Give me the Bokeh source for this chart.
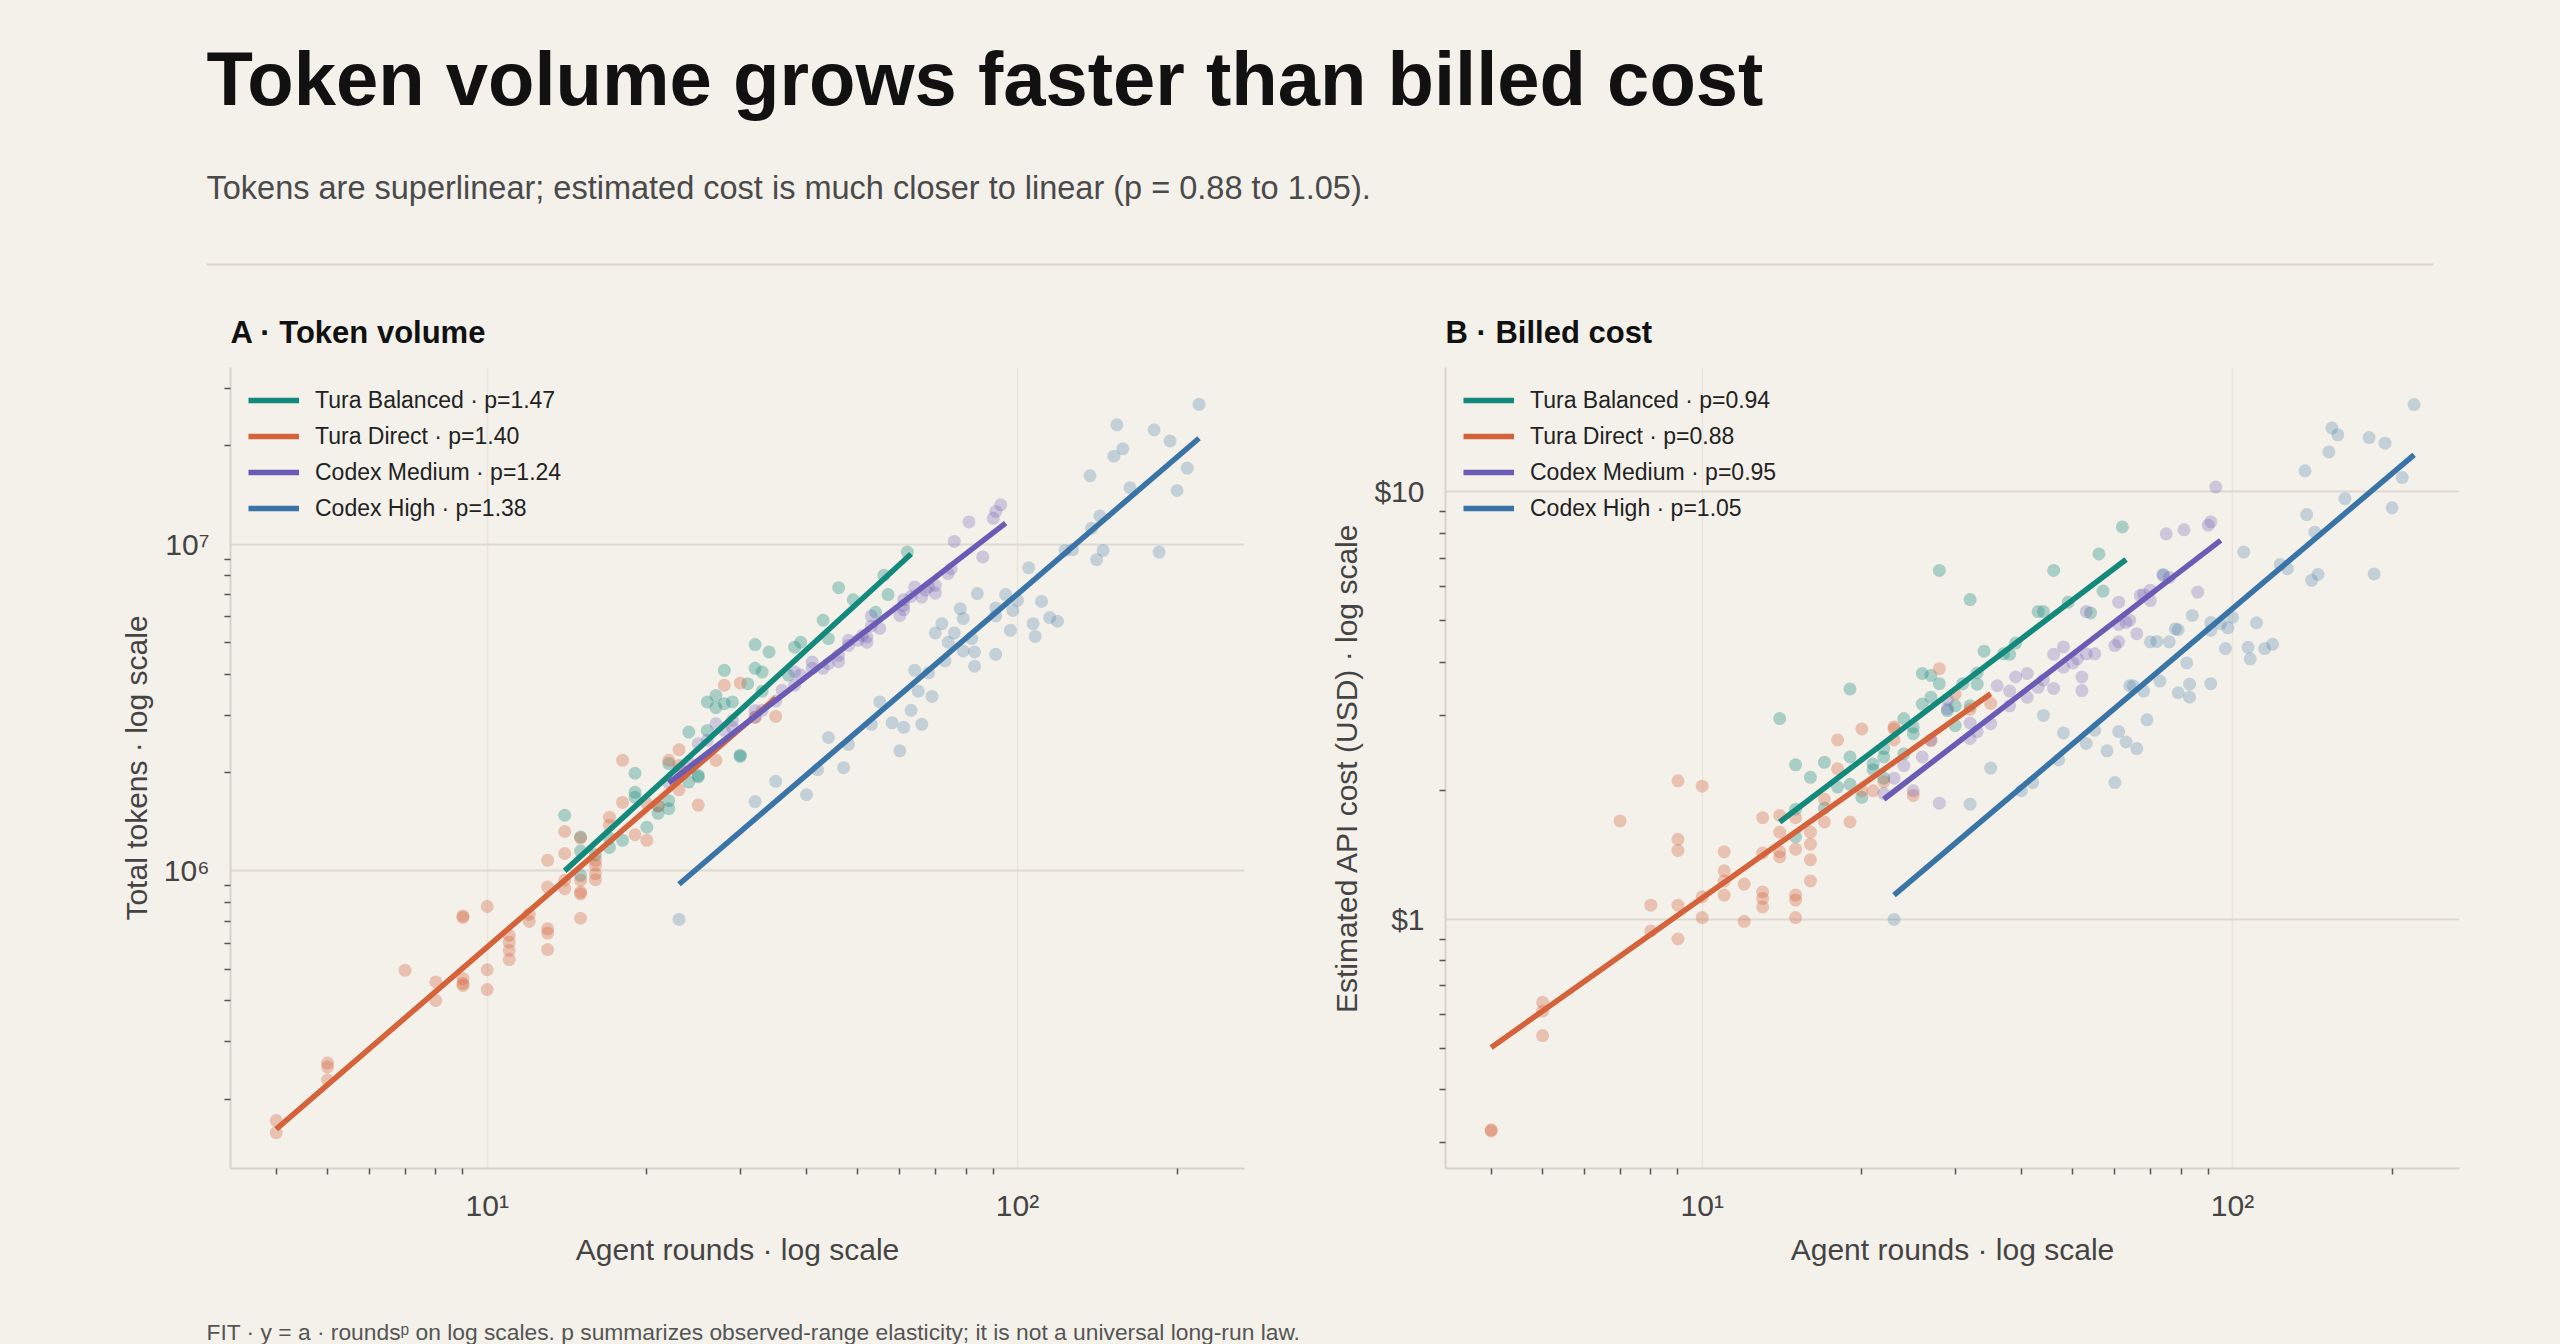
from bokeh.plotting import figure
from bokeh.layouts import column, row
from bokeh.models import Range1d, FixedTicker, CustomJSTickFormatter, Legend, LegendItem
from bokeh.core.properties import value
from bokeh.embed import file_html
from bokeh.resources import INLINE

# ---------------- text ----------------
TITLE = "Token volume grows faster than billed cost"
SUBTITLE = "Tokens are superlinear; estimated cost is much closer to linear (p = 0.88 to 1.05)."
FOOTNOTE = "FIT · y = a · rounds\u1d56 on log scales. p summarizes observed-range elasticity; it is not a universal long-run law."
PANEL_TITLES = ["A · Token volume", "B · Billed cost"]
X_LABEL = "Agent rounds · log scale"
Y_LABELS = ["Total tokens · log scale", "Estimated API cost (USD) · log scale"]
SERIES = ["Tura Balanced", "Tura Direct", "Codex Medium", "Codex High"]
P_TOKENS = [1.47, 1.40, 1.24, 1.38]
P_COST = [0.94, 0.88, 0.95, 1.05]

# ---------------- ticks ----------------
X_MAJOR = [10, 100]
X_MAJOR_LABELS = ["10\u00b9", "10\u00b2"]
X_MINOR = [4, 5, 6, 7, 8, 9, 20, 30, 40, 50, 60, 70, 80, 90, 200]
YA_MAJOR = [1000000, 10000000]
YA_MAJOR_LABELS = ["10\u2076", "10\u2077"]
YA_MINOR = [2e5, 3e5, 4e5, 5e5, 6e5, 7e5, 8e5, 9e5, 2e6, 3e6, 4e6, 5e6, 6e6, 7e6, 8e6, 9e6, 2e7, 3e7]
YB_MAJOR = [1, 10]
YB_MAJOR_LABELS = ["$1", "$10"]
YB_MINOR = [0.3, 0.4, 0.5, 0.6, 0.7, 0.8, 0.9, 2, 3, 4, 5, 6, 7, 8, 9]

# ---------------- data: Tura Balanced ----------------
tb_rounds = [14, 15, 15, 15, 16, 17, 17, 18, 19, 19, 19, 20, 21, 21, 22, 22, 22, 24, 24, 25, 25, 26, 26,
             27, 27, 28, 28, 29, 30, 30, 31, 32, 32, 33, 33, 34, 37, 38, 39, 43, 44, 46, 49, 54, 56, 57, 62]
tb_tokens = [1.48e6, 1.27e6, 0.968e6, 1.15e6, 1.12e6, 1.18e6, 1.26e6, 1.24e6, 1.99e6, 1.74e6, 1.68e6,
             1.36e6, 1.50e6, 1.58e6, 1.64e6, 1.55e6, 2.13e6, 1.87e6, 2.66e6, 1.96e6, 1.94e6, 2.69e6,
             3.29e6, 3.44e6, 3.16e6, 4.11e6, 3.25e6, 3.29e6, 2.26e6, 2.24e6, 3.74e6, 4.93e6, 4.17e6,
             4.06e6, 3.55e6, 4.68e6, 3.97e6, 4.84e6, 5.01e6, 5.85e6, 5.14e6, 7.36e6, 6.76e6, 6.19e6,
             8.04e6, 7.01e6, 9.46e6]
tb_cost = [2.95, 2.30, 1.81, 1.56, 2.15, 2.33, 1.82, 2.04, 3.46, 2.40, 2.07, 1.93, 2.31, 2.24, 2.40,
           2.51, 2.14, 2.95, 2.44, 2.72, 2.82, 3.76, 3.19, 3.72, 3.31, 3.56, 6.55, 3.08, 2.84, 3.16,
           3.56, 5.60, 3.16, 3.77, 3.55, 4.24, 4.18, 4.17, 4.43, 5.25, 5.25, 6.55, 5.52, 5.21, 7.16,
           5.86, 8.28]

# ---------------- data: Tura Direct ----------------
td_rounds = [4, 4, 5, 5, 5, 7, 8, 8, 9, 9, 9, 9, 9, 10, 10, 10, 11, 11, 11, 11, 12, 12, 13, 13, 13, 13, 13,
             14, 14, 14, 14, 15, 15, 15, 15, 15, 16, 16, 16, 16, 17, 17, 18, 18, 19, 20, 20, 21, 22, 23,
             23, 23, 25, 27, 28, 30, 32, 35]
td_tokens = [1.72e5, 1.58e5, 2.58e5, 2.51e5, 2.29e5, 4.96e5, 4.57e5, 4.01e5, 7.28e5, 7.20e5, 4.68e5,
             4.52e5, 4.46e5, 7.78e5, 4.98e5, 4.33e5, 6.35e5, 6.05e5, 5.71e5, 5.35e5, 7.36e5, 7.00e5,
             1.077e6, 8.92e5, 6.65e5, 6.45e5, 5.74e5, 1.32e6, 1.13e6, 9.36e5, 8.82e5, 1.26e6, 9.36e5,
             8.61e5, 7.16e5, 8.50e5, 1.077e6, 9.40e5, 1.04e6, 9.80e5, 1.46e6, 1.38e6, 2.18e6, 1.62e6,
             1.29e6, 1.24e6, 1.61e6, 1.58e6, 2.18e6, 1.77e6, 2.35e6, 2.10e6, 1.59e6, 2.18e6, 3.70e6,
             3.76e6, 2.95e6, 2.97e6]
td_cost = [0.32, 0.322, 0.64, 0.61, 0.535, 1.70, 1.08, 0.94, 2.11, 1.54, 1.45, 1.08, 0.90, 2.05, 1.13,
           1.01, 1.44, 1.30, 1.23, 1.14, 1.21, 0.99, 1.73, 1.43, 1.16, 1.12, 1.07, 1.75, 1.60, 1.44,
           1.40, 1.73, 1.46, 1.14, 1.11, 1.01, 1.60, 1.50, 1.38, 1.23, 1.91, 1.69, 2.63, 2.25, 1.69,
           2.79, 2.00, 2.00, 2.10, 2.79, 2.63, 2.82, 1.95, 2.62, 3.86, 3.37, 3.10, 3.20]

# ---------------- data: Codex Medium ----------------
cm_rounds = [22, 23, 24, 25, 26, 27, 28, 29, 29, 32, 32, 33, 35, 36, 38, 38, 39, 41, 41, 43, 44, 46, 46,
             48, 48, 50, 51, 52, 52, 53, 53, 55, 60, 61, 61, 61, 63, 64, 66, 67, 68, 70, 70, 74, 75, 76,
             81, 86, 90, 91, 93]
cm_tokens = [1.86e6, 2.04e6, 2.14e6, 2.45e6, 2.51e6, 2.82e6, 2.69e6, 2.89e6, 2.75e6, 2.96e6, 3.09e6,
             3.10e6, 3.31e6, 3.57e6, 3.70e6, 4.07e6, 3.98e6, 4.36e6, 4.17e6, 4.17e6, 4.31e6, 4.57e6,
             4.37e6, 5.08e6, 4.90e6, 5.08e6, 5.25e6, 5.20e6, 5.01e6, 5.62e6, 6.03e6, 5.52e6, 6.05e6,
             6.50e6, 6.31e6, 6.76e6, 6.92e6, 7.40e6, 6.89e6, 7.24e6, 7.41e6, 7.48e6, 7.08e6, 8.13e6,
             8.41e6, 1.02e7, 1.17e7, 9.14e6, 1.20e7, 1.26e7, 1.32e7]
cm_cost = [1.97, 2.14, 2.29, 2.00, 2.40, 2.63, 1.87, 3.27, 3.11, 2.88, 2.65, 2.75, 2.87, 3.52, 3.42,
           3.16, 3.69, 3.76, 3.31, 3.49, 3.63, 4.17, 3.47, 4.34, 3.89, 3.98, 4.07, 3.69, 3.43, 4.18,
           5.25, 4.18, 4.37, 4.46, 5.52, 4.90, 4.95, 5.01, 4.66, 5.73, 5.75, 5.89, 5.57, 6.38, 7.98,
           6.31, 8.15, 5.83, 8.36, 8.51, 10.26]

# ---------------- data: Codex High ----------------
ch_rounds = [23, 32, 35, 40, 42, 44, 47, 48, 53, 55, 58, 60, 61, 63, 64, 65, 66, 68, 69, 70, 72, 73, 74,
             76, 78, 79, 79, 82, 83, 83, 84, 91, 91, 91, 95, 97, 98, 100, 105, 107, 108, 111, 115, 119,
             123, 127, 137, 138, 141, 143, 145, 152, 154, 158, 163, 181, 185, 194, 200, 209, 220]
ch_tokens = [7.1e5, 1.63e6, 1.88e6, 1.71e6, 2.04e6, 2.56e6, 2.07e6, 2.44e6, 2.81e6, 3.29e6, 2.84e6,
             2.33e6, 2.75e6, 3.10e6, 4.11e6, 3.55e6, 2.81e6, 4.04e6, 3.42e6, 5.35e6, 5.71e6, 4.39e6,
             5.01e6, 5.35e6, 6.35e6, 5.92e6, 4.71e6, 5.14e6, 4.23e6, 4.68e6, 7.06e6, 6.38e6, 6.03e6,
             4.60e6, 7.01e6, 5.45e6, 6.27e6, 6.73e6, 8.47e6, 5.71e6, 5.22e6, 6.68e6, 5.96e6, 5.81e6,
             9.57e6, 9.62e6, 1.62e7, 1.12e7, 8.97e6, 1.22e7, 9.57e6, 1.86e7, 2.32e7, 1.96e7, 1.49e7,
             2.24e7, 9.46e6, 2.07e7, 1.46e7, 1.71e7, 2.68e7]
ch_cost = [1.00, 1.86, 2.26, 2.00, 2.09, 3.00, 2.36, 2.73, 2.58, 2.77, 2.48, 2.09, 2.75, 2.60, 3.52,
           3.52, 2.51, 3.42, 2.93, 4.46, 4.47, 3.61, 6.41, 4.46, 4.78, 4.76, 3.39, 3.98, 3.31, 3.55,
           5.14, 4.95, 4.74, 3.56, 4.92, 4.30, 4.81, 5.09, 7.23, 4.33, 4.07, 4.94, 4.30, 4.40, 6.76,
           6.61, 11.2, 8.85, 6.21, 8.05, 6.41, 12.4, 14.1, 13.6, 9.64, 13.4, 6.43, 13.0, 9.18, 10.8, 16.0]

# ---------------- fitted lines (endpoints) ----------------
tb_fit_rounds, tb_fit_tokens, tb_fit_cost = [14, 63], [1.0e6, 9.33e6], [1.69, 6.95]
td_fit_rounds, td_fit_tokens, td_fit_cost = [4, 35], [1.62e5, 3.38e6], [0.502, 3.37]
cm_fit_rounds, cm_fit_tokens, cm_fit_cost = [22, 95], [1.86e6, 1.16e7], [1.91, 7.70]
ch_fit_rounds, ch_fit_tokens, ch_fit_cost = [23, 220], [9.1e5, 2.11e7], [1.14, 12.2]

# ---------------- style ----------------
BG = "#f4f1ea"
FONT = "Liberation Sans"
COLORS = ["#12897b", "#d4623a", "#6a5bb5", "#3a74a6"]
DOT_ALPHA = [0.33, 0.33, 0.28, 0.26]
X_RANGE = (3.28, 268)
YA_RANGE = (1.227e5, 3.475e7)
YB_RANGE = (0.2615, 19.54)

scatter_rounds = [tb_rounds, td_rounds, cm_rounds, ch_rounds]
scatter_tokens = [tb_tokens, td_tokens, cm_tokens, ch_tokens]
scatter_cost = [tb_cost, td_cost, cm_cost, ch_cost]
fit_rounds = [tb_fit_rounds, td_fit_rounds, cm_fit_rounds, ch_fit_rounds]
fit_tokens = [tb_fit_tokens, td_fit_tokens, cm_fit_tokens, ch_fit_tokens]
fit_cost = [tb_fit_cost, td_fit_cost, cm_fit_cost, ch_fit_cost]


def label_formatter(ticks, labels):
    mapping = {str(t): l for t, l in zip(ticks, labels)}
    return CustomJSTickFormatter(args=dict(m=mapping), code="""
        const k = String(tick);
        return (k in m) ? m[k] : '';
    """)


def plain_fig(width, height, xr, yr):
    p = figure(width=width, height=height, x_range=Range1d(*xr), y_range=Range1d(*yr),
               output_backend="svg", toolbar_location=None, min_border=0,
               x_axis_location=None, y_axis_location=None)
    p.grid.visible = False
    p.outline_line_color = None
    p.background_fill_color = BG
    p.border_fill_color = BG
    return p


def make_panel(idx, width, left, right, yr, y_major, y_labels, y_minor, yvals, fits, pvals):
    p = figure(width=width, height=1030, x_axis_type="log", y_axis_type="log",
               x_range=Range1d(*X_RANGE), y_range=Range1d(*yr),
               output_backend="svg", toolbar_location=None,
               min_border_left=left, min_border_right=right, min_border_top=87, min_border_bottom=142)
    p.background_fill_color = BG
    p.border_fill_color = BG
    p.outline_line_color = None

    p.title.text = PANEL_TITLES[idx]
    p.title.align = "left"
    p.title.text_font = FONT
    p.title.text_font_size = "31px"
    p.title.text_font_style = "bold"
    p.title.text_color = "#111111"
    p.title.standoff = 36

    xt = FixedTicker(ticks=X_MAJOR, minor_ticks=X_MINOR)
    yt = FixedTicker(ticks=y_major, minor_ticks=y_minor)
    p.xaxis.ticker = xt
    p.xgrid.ticker = xt
    p.yaxis.ticker = yt
    p.ygrid.ticker = yt
    p.xaxis.formatter = label_formatter(X_MAJOR, X_MAJOR_LABELS)
    p.yaxis.formatter = label_formatter(y_major, y_labels)

    for ax in (p.xaxis[0], p.yaxis[0]):
        ax.axis_line_color = "#d8d4cb"
        ax.axis_line_width = 2
        ax.major_tick_in = 0
        ax.major_tick_out = 0
        ax.minor_tick_in = 0
        ax.minor_tick_out = 6
        ax.minor_tick_line_color = "#555555"
        ax.minor_tick_line_width = 1.5
        ax.major_label_text_font = FONT
        ax.major_label_text_font_size = "30px"
        ax.major_label_text_color = "#444444"
        ax.axis_label_text_font = FONT
        ax.axis_label_text_font_size = "30px"
        ax.axis_label_text_font_style = "normal"
        ax.axis_label_text_color = "#444444"
    p.xaxis.major_label_standoff = 14
    p.xaxis.axis_label_standoff = 8
    p.yaxis.major_label_standoff = 15
    p.yaxis.axis_label_standoff = 8
    p.xaxis.axis_label = X_LABEL
    p.yaxis.axis_label = Y_LABELS[idx]

    p.ygrid.grid_line_color = "#dedad1"
    p.ygrid.grid_line_width = 2
    p.xgrid.grid_line_color = "#e9e5dd"
    p.xgrid.grid_line_width = 1.5

    for i in range(4):
        p.scatter(scatter_rounds[i], yvals[i], size=13, fill_color=COLORS[i],
                  fill_alpha=DOT_ALPHA[i], line_color=None)
    items = []
    for i in range(4):
        r = p.line(fit_rounds[i], fits[i], line_color=COLORS[i], line_width=5.5)
        items.append(LegendItem(label=f"{SERIES[i]} · p={pvals[i]:.2f}", renderers=[r]))

    leg = Legend(items=items, location="top_left", margin=18, padding=0, spacing=6,
                 glyph_width=51, glyph_height=30, label_height=30, label_standoff=16,
                 label_text_font=FONT, label_text_font_size="23px", label_text_color="#222222",
                 background_fill_alpha=0, border_line_color=None)
    p.add_layout(leg)
    return p


# header
header = plain_fig(2560, 280, (0, 2560), (280, 0))
header.text(x=[206], y=[78], text=[TITLE], text_font=value(FONT), text_font_size="76px",
            text_font_style="bold", text_color="#111111", text_baseline="alphabetic")
header.text(x=[206], y=[187], text=[SUBTITLE], text_font=value(FONT), text_font_size="32.5px",
            text_color="#4a4a4a", text_baseline="alphabetic")
header.segment(x0=[206], y0=[264], x1=[2433], y1=[264], line_color="#dcd8cf", line_width=2)

pa = make_panel(0, 1290, 230, 46, YA_RANGE, YA_MAJOR, YA_MAJOR_LABELS, YA_MINOR,
                scatter_tokens, fit_tokens, P_TOKENS)
pb = make_panel(1, 1270, 155, 101, YB_RANGE, YB_MAJOR, YB_MAJOR_LABELS, YB_MINOR,
                scatter_cost, fit_cost, P_COST)

footer = plain_fig(2560, 34, (0, 2560), (34, 0))
footer.text(x=[206], y=[21], text=[FOOTNOTE], text_font=value(FONT), text_font_size="22.8px",
            text_color="#555555", text_baseline="alphabetic")

panels = row(pa, pb, spacing=0, styles={"background-color": BG})
layout = column(header, panels, footer, spacing=0, styles={"background-color": BG})
html = file_html(layout, INLINE, title="Token volume grows faster than billed cost")
html = html.replace("<body>", '<body style="margin:0;background-color:%s;">' % BG, 1)
open("out.html", "w").write(html)
